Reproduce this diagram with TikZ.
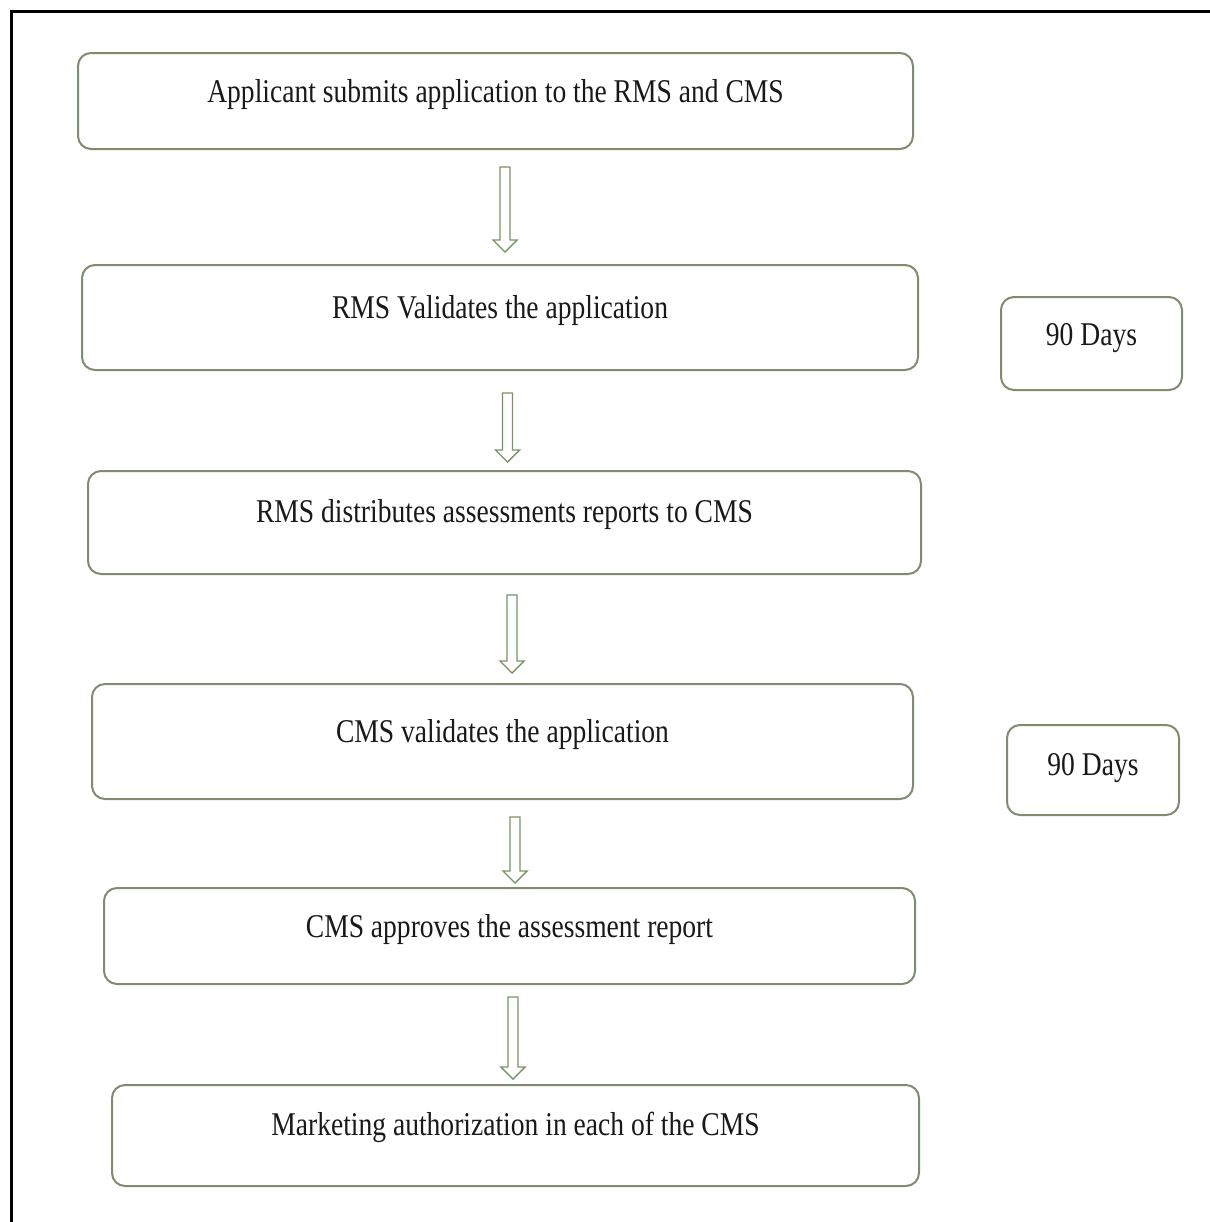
\documentclass[tikz,border=0pt]{standalone}
\usepackage{fontspec}
\setmainfont{Liberation Serif}[FakeStretch=0.83]
\usetikzlibrary{calc}
\definecolor{boxline}{RGB}{128,140,112}
\definecolor{arrline}{RGB}{120,148,100}
\definecolor{txt}{RGB}{25,25,25}
\tikzset{
  stepbox/.style={draw=boxline, line width=1pt, rounded corners=6.5pt, fill=white, inner sep=0pt},
  steptext/.style={anchor=base, text=txt, inner sep=0pt, font=\fontsize{16.6}{20}\selectfont},
  arrowsty/.style={draw=arrline, line width=0.7pt, fill=white, line join=miter},
  frame/.style={draw=black, line width=1.5pt}
}
\newcommand\blockarr[2]{%
  \draw[arrowsty] ($(#1)+(-5,0)$) -- ($(#2)+(-5,12)$) -- ($(#2)+(-12,12)$) -- (#2)
    -- ($(#2)+(12,12)$) -- ($(#2)+(5,12)$) -- ($(#1)+(5,0)$) -- cycle;}
\begin{document}
\begin{tikzpicture}[x=0.5pt,y=0.5pt]
\useasboundingbox (0,0) rectangle (1210,-1222);
% frame
\coordinate (fbl) at (11,-1222);
\coordinate (ftl) at (11,-11);
\coordinate (ftr) at (1210,-11);
\draw[frame] (fbl) -- (ftl) -- (ftr);
% boxes
\node[stepbox, minimum width=417.5pt, minimum height=48pt]   (b1) at (495.5,-101) {};
\node[stepbox, minimum width=418pt,   minimum height=52.5pt] (b2) at (500,-317.5) {};
\node[stepbox, minimum width=416.5pt, minimum height=51.5pt] (b3) at (504.5,-522.5) {};
\node[stepbox, minimum width=410.5pt, minimum height=57.5pt] (b4) at (502.5,-741.5) {};
\node[stepbox, minimum width=405.5pt, minimum height=48pt]   (b5) at (509.5,-936) {};
\node[stepbox, minimum width=403.5pt, minimum height=50.5pt] (b6) at (515.5,-1135.5) {};
\node[stepbox, minimum width=90.5pt,  minimum height=46.5pt] (d1) at (1091.5,-343.5) {};
\node[stepbox, minimum width=86pt,    minimum height=45pt]   (d2) at (1093,-770) {};
% texts
\node[steptext] (t1) at ([yshift=-0.5pt]b1.center) {Applicant submits application to the RMS and CMS};
\node[steptext] (t2) at ([yshift=-0.3pt]b2.center) {RMS Validates the application};
\node[steptext] (t3) at ([yshift=0pt]b3.center) {RMS distributes assessments reports to CMS};
\node[steptext] (t4) at ([yshift=-0.7pt]b4.center) {CMS validates the application};
\node[steptext] (t5) at ([yshift=-0.5pt]b5.center) {CMS approves the assessment report};
\node[steptext] (t6) at ([yshift=0pt]b6.center) {Marketing authorization in each of the CMS};
\node[steptext] (t7) at ([yshift=-0.8pt]d1.center) {90 Days};
\node[steptext] (t8) at ([yshift=-2.5pt]d2.center) {90 Days};
% arrows
\coordinate (a1s) at (505,-167);  \coordinate (a1e) at (505,-252);
\coordinate (a2s) at (507.5,-393); \coordinate (a2e) at (507.5,-462);
\coordinate (a3s) at (512,-595);  \coordinate (a3e) at (512,-673);
\coordinate (a4s) at (515,-817);  \coordinate (a4e) at (515,-883);
\coordinate (a5s) at (513,-997);  \coordinate (a5e) at (513,-1079);
\blockarr{a1s}{a1e}
\blockarr{a2s}{a2e}
\blockarr{a3s}{a3e}
\blockarr{a4s}{a4e}
\blockarr{a5s}{a5e}
\end{tikzpicture}
\end{document}
